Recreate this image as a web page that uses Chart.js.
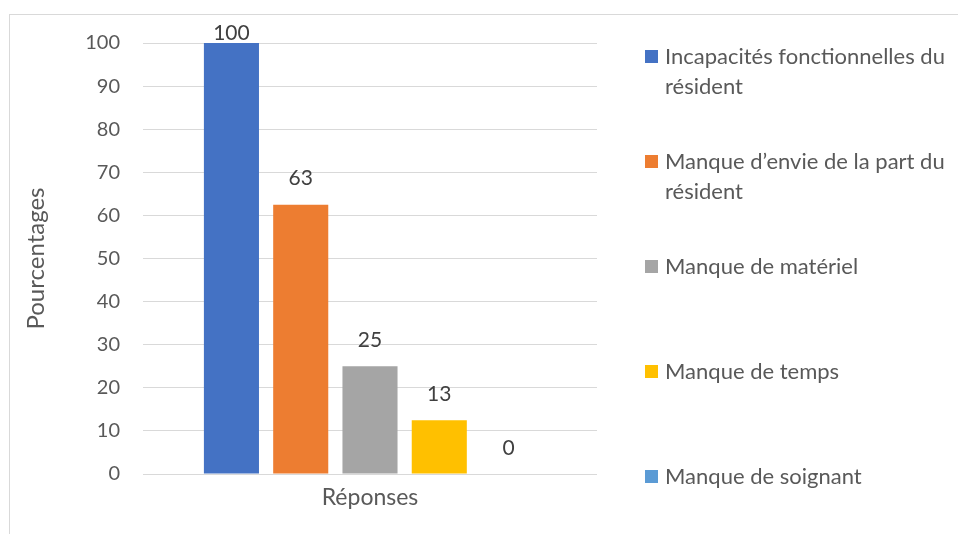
<!DOCTYPE html>
<html>
<head>
<meta charset="utf-8">
<script src="https://cdn.jsdelivr.net/npm/chart.js@4"></script>
<style>
    body { margin: 0; background: #fff; }
    #wrap { position: relative; width: 958px; height: 534px; overflow: hidden; }
    #frame { position: absolute; left: 9px; top: 14px; width: 960px; height: 530px; border: 1px solid #d9d9d9; }
    #legend { position: absolute; left: 645px; top: 41px; width: 313px; font-family: Lato, "Open Sans", sans-serif; font-size: 22px; color: #595959; }
    .item { position: relative; height: 105px; padding-left: 20px; line-height: 30px; }
    .box { position: absolute; left: 0; top: 9px; width: 13px; height: 13px; }
</style>
</head>
<body>
<div id="wrap">
    <div id="frame"></div>
    <canvas id="chart" width="958" height="534"></canvas>
    <div id="legend"></div>
</div>
<script>
const categories = ['Réponses'];
const seriesNames = ['Incapacités fonctionnelles du résident', 'Manque d’envie de la part du résident', 'Manque de matériel', 'Manque de temps', 'Manque de soignant'];
const seriesValues = [100, 62.5, 25, 12.5, 0];
const seriesColors = ['#4472C4', '#ED7D31', '#A5A5A5', '#FFC000', '#5B9BD5'];
const yTicks = [0, 10, 20, 30, 40, 50, 60, 70, 80, 90, 100];

const font = "Lato, 'Open Sans', sans-serif";

// value labels above each bar
const valueLabels = {
    id: 'valueLabels',
    afterDatasetsDraw(chart) {
        const ctx = chart.ctx;
        ctx.save();
        ctx.font = '21px ' + font;
        ctx.fillStyle = '#404040';
        ctx.textAlign = 'center';
        ctx.textBaseline = 'middle';
        chart.data.datasets.forEach((ds, i) => {
            const bar = chart.getDatasetMeta(i).data[0];
            const y = Math.max(bar.y - 26, chart.chartArea.top - 10);
            ctx.fillText(Math.round(ds.data[0]), bar.x, y);
        });
        ctx.restore();
    }
};

document.addEventListener("DOMContentLoaded", function () {
    const ctx = document.getElementById('chart').getContext('2d');
    const chart = new Chart(ctx, {
        type: 'bar',
        data: {
            labels: categories,
            datasets: seriesNames.map((name, i) => ({
                label: name,
                data: [seriesValues[i]],
                backgroundColor: seriesColors[i],
                categoryPercentage: 0.763,
                barPercentage: 0.795
            }))
        },
        options: {
            responsive: false,
            animation: false,
            layout: { padding: { left: 20, right: 361, top: 43, bottom: 0 } },
            plugins: {
                legend: { display: false },
                tooltip: { enabled: false }
            },
            scales: {
                x: {
                    grid: { display: false },
                    border: { display: false },
                    ticks: { color: '#595959', font: { family: font, size: 23 }, padding: 2 },
                    afterFit(scale) { scale.height = 60; }
                },
                y: {
                    min: 0,
                    max: 100,
                    afterBuildTicks(scale) { scale.ticks = yTicks.map(v => ({ value: v })); },
                    grid: { color: '#d9d9d9', drawTicks: false },
                    border: { display: false },
                    ticks: { color: '#595959', font: { family: font, size: 20 }, padding: 23 },
                    title: {
                        display: true,
                        text: 'Pourcentages',
                        color: '#595959',
                        font: { family: font, size: 24 },
                        padding: { top: 2, bottom: 4 }
                    },
                    afterFit(scale) { scale.width = 123; }
                }
            }
        },
        plugins: [valueLabels]
    });

    const legend = document.getElementById('legend');
    chart.data.datasets.forEach(ds => {
        const item = document.createElement('div');
        item.className = 'item';
        item.innerHTML = '<span class="box" style="background:' + ds.backgroundColor + '"></span>' + ds.label;
        legend.appendChild(item);
    });
});
</script>
</body>
</html>
